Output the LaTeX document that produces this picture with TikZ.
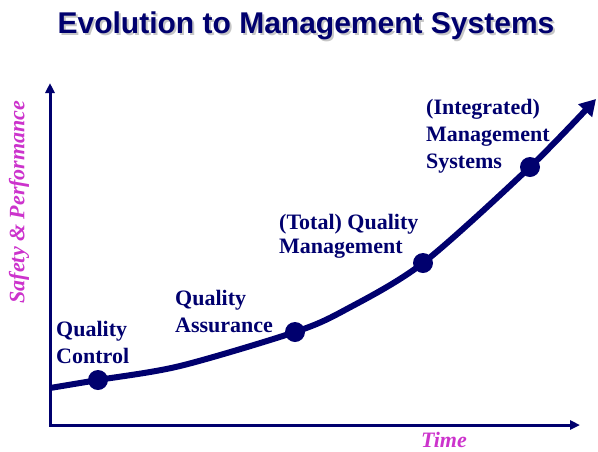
\documentclass[tikz,border=0pt]{standalone}
\usepackage{fontspec}
\setmainfont{Liberation Serif}
\newfontfamily\headfont{Liberation Sans}
\usetikzlibrary{arrows.meta}
\definecolor{navy}{RGB}{0,0,110}
\definecolor{axispink}{RGB}{204,51,204}

\begin{document}
\begin{tikzpicture}[x=1pt,y=-1pt,
    axis/.style={navy,line width=3pt,line join=miter},
    trend/.style={navy,line width=6pt,-{Triangle[length=16pt,width=18pt]}},
    stage/.style={circle,fill=navy,minimum size=20pt,inner sep=0pt},
    stagelabel/.style={navy,font=\bfseries\fontsize{22}{27}\selectfont,align=left,anchor=base west,inner sep=0pt},
    axislabel/.style={axispink,font=\bfseries\itshape\fontsize{22}{26}\selectfont,inner sep=0pt}]
  \useasboundingbox (0,0) rectangle (598,451);
  % title with its drop shadow
  \node[gray!45,font=\headfont\bfseries\fontsize{30}{34}\selectfont,anchor=base] (titleshadow) at (308,35) {Evolution to Management Systems};
  \node[navy,font=\headfont\bfseries\fontsize{30}{34}\selectfont,anchor=base] (title) at (306,33) {Evolution to Management Systems};
  % axes
  \coordinate (origin) at (50,425);
  \coordinate (ytip) at (50,83);
  \coordinate (xtip) at (580,425);
  \draw[axis,{Triangle[length=10pt,width=9pt]}-{Triangle[length=10pt,width=9pt]}] (ytip) -- (origin) -- (xtip);
  \node[axislabel,rotate=90] (ylabel) at (19,202) {Safety \& Performance};
  \node[axislabel,anchor=base west] (xlabel) at (421,447) {Time};
  % stages along the curve
  \node[stage] (qc) at (98,380) {};
  \node[stage] (qa) at (295,332) {};
  \node[stage] (qm) at (423,263) {};
  \node[stage] (ims) at (530,167) {};
  \coordinate (start) at (50,388);
  \coordinate (bend1) at (180,366);
  \coordinate (bend2) at (345,310);
  \coordinate (end) at (596,99);
  \draw[trend] plot[smooth,tension=0.5] coordinates {(start) (qc.center) (bend1) (qa.center) (bend2) (qm.center) (ims.center) (end)};
  % labels sit on the baseline of their last line
  \node[stagelabel] (qclabel) at (56,363) {Quality\\Control};
  \node[stagelabel] (qalabel) at (175,332) {Quality\\Assurance};
  \node[stagelabel] (qmlabel) at (279,253) {(Total) Quality\\[-3pt]Management};
  \node[stagelabel] (imslabel) at (426,168) {(Integrated)\\Management\\Systems};
\end{tikzpicture}
\end{document}
